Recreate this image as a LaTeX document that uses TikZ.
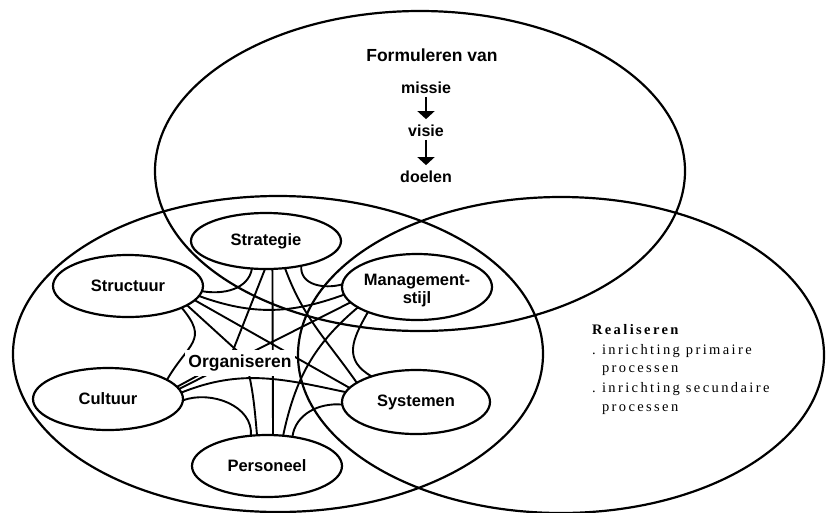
\documentclass[tikz,border=0pt]{standalone}
\usepackage{fontspec}
\setsansfont{Liberation Sans}
\setmainfont{Liberation Serif}
\newfontfamily\spacedserif[LetterSpace=16.5]{Liberation Serif}
\usetikzlibrary{shapes.geometric,arrows.meta}
\begin{document}
\begin{tikzpicture}[x=1pt,y=-1pt,
  every node/.style={inner sep=0pt,outer sep=0pt},
  ring/.style={line width=2.2pt},
  conn/.style={line width=1.9pt},
  lbl/.style={font=\sffamily\bfseries\fontsize{16.5}{18}\selectfont},
  elem/.style={draw,ellipse,line width=2.2pt,minimum width=150pt,lbl},
  word/.style={font=\sffamily\bfseries\fontsize{16}{18}\selectfont,inner sep=3pt},
  flow/.style={line width=1.5pt,-{Triangle[width=17pt,length=8pt]},shorten >=3pt},
  rtxt/.style={anchor=base west,font=\spacedserif\fontsize{14.5}{19}\selectfont}
]
\fill[white] (0,0) rectangle (826,512);
\useasboundingbox (0,0) rectangle (826,512);

% the six elements
\node[elem,minimum height=56pt] (st) at (266,241) {Strategie};
\node[elem,minimum height=62pt] (sr) at (128,286) {Structuur};
\node[elem,minimum height=66pt] (m)  at (417,287) {};
\node[lbl,align=center] (mt) at (417,291) {Management-\\stijl};
\node[elem,minimum height=62pt] (c)  at (108,399) {Cultuur};
\node[elem,minimum width=148pt,minimum height=64pt] (sy) at (416,402) {Systemen};
\node[elem,minimum height=62pt] (p)  at (267,466) {Personeel};

% bends hidden behind the central label
\coordinate (ka) at (230,358);
\coordinate (kb) at (245,358);

% connections between the elements
\draw[conn] (st.243) to[out=-100,in=-10] (sr.356);
\draw[conn] (st.325) to[out=-95,in=195,looseness=1.1] (m.178);
\draw[conn] (st.268) -- (ka) -- (c.10);
\draw[conn] (st.305) to[out=-70,in=125] (sy.162);
\draw[conn] (st.283) -- (p.79);
\draw[conn] (sr.352) to[out=-20,in=200] (m.186);
\draw[conn] (sr.338) to[out=-50,in=60,looseness=1.5] (c.18);
\draw[conn] (sr.348) -- (sy.168);
\draw[conn] (sr.342) -- (kb) to[out=-75,in=95] (p.108);
\draw[conn] (m.193) -- (c.8);
\draw[conn] (m.207) to[out=-120,in=150,looseness=1.3] (sy.150);
\draw[conn] (m.199) to[out=-140,in=78] (p.62);
\draw[conn] (c.5) to[out=22,in=168] (sy.172);
\draw[conn] (c.-1) to[out=20,in=85] (p.118);
\draw[conn] (sy.182) to[out=175,in=82] (p.49);

% central label
\node[fill=white,inner xsep=3pt,inner ysep=5pt,
      font=\sffamily\bfseries\fontsize{17.5}{20}\selectfont] (org) at (240,363) {Organiseren};

% the three overlapping domains
\draw[ring] (420,171) ellipse [x radius=265pt,y radius=160pt];
\draw[ring] (278,354) ellipse [x radius=265pt,y radius=158pt];
\draw[ring] (561,355) ellipse [x radius=263pt,y radius=158pt];

% formulating
\node[font=\sffamily\bfseries\fontsize{17.5}{20}\selectfont] (form) at (432,55) {Formuleren van};
\node[word] (mis) at (426,88) {missie};
\node[word] (vis) at (426,131) {visie};
\node[word] (doel) at (426,177) {doelen};
\draw[flow] (mis.south) -- (vis.north);
\draw[flow] (vis.south) -- (doel.north);

% realising
\node[rtxt,font=\spacedserif\bfseries\fontsize{14.5}{19}\selectfont] (r0) at (592,334) {Realiseren};
\node[rtxt] (r1) at (592,354) {\makebox[10pt][l]{.}inrichting primaire};
\node[rtxt] (r2) at (602,372.5) {processen};
\node[rtxt] (r3) at (592,392.5) {\makebox[10pt][l]{.}inrichting secundaire};
\node[rtxt] (r4) at (602,411) {processen};
\end{tikzpicture}
\end{document}
